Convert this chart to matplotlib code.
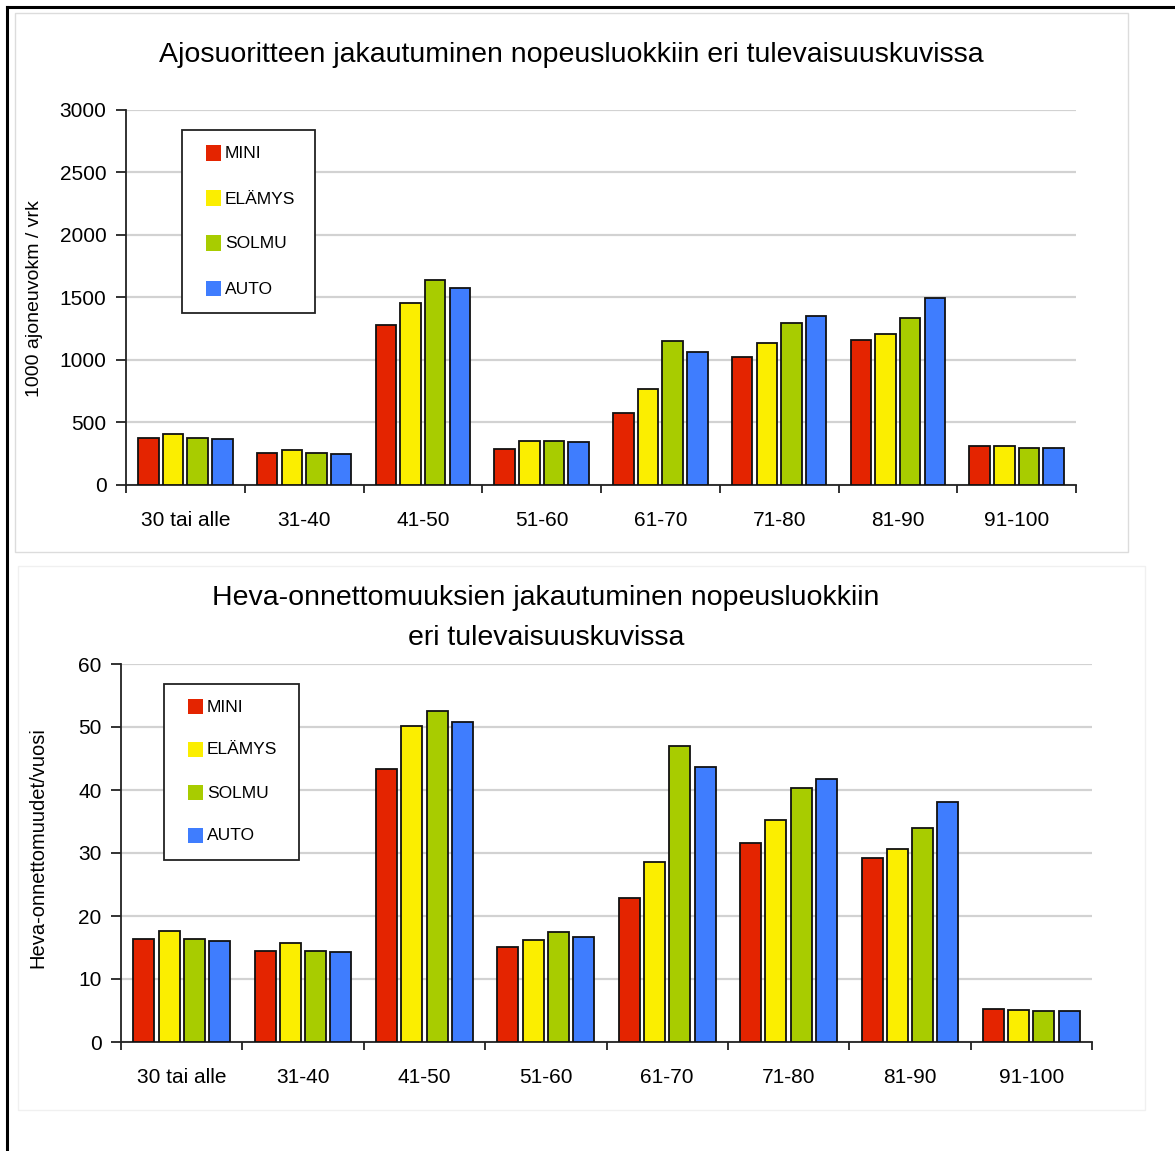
import matplotlib
matplotlib.use('Agg')
import matplotlib.pyplot as plt
from matplotlib.patches import Rectangle
from matplotlib.lines import Line2D
import numpy as np

plt.rcParams['font.family'] = ['Liberation Sans', 'DejaVu Sans']

categories = ['30 tai alle', '31-40', '41-50', '51-60', '61-70', '71-80', '81-90', '91-100']
scenarios = ['MINI', 'ELÄMYS', 'SOLMU', 'AUTO']
colors = ['#e42400', '#fbee00', '#a8cc00', '#3f7dfe']

# 1000 ajoneuvokm / vrk
ajo_mini = [373, 256, 1277, 288, 573, 1021, 1160, 315]
ajo_elamys = [405, 277, 1453, 352, 765, 1139, 1208, 309]
ajo_solmu = [376, 256, 1637, 352, 1155, 1293, 1339, 299]
ajo_auto = [365, 251, 1573, 347, 1067, 1349, 1493, 293]

# Heva-onnettomuudet / vuosi
heva_mini = [16.3, 14.5, 43.4, 15.1, 22.9, 31.6, 29.2, 5.2]
heva_elamys = [17.6, 15.7, 50.2, 16.2, 28.6, 35.2, 30.6, 5.1]
heva_solmu = [16.4, 14.5, 52.6, 17.5, 47.0, 40.3, 33.9, 5.0]
heva_auto = [16.0, 14.3, 50.8, 16.7, 43.6, 41.8, 38.1, 4.9]

W, H = 1175, 1151
fig = plt.figure(figsize=(W / 100, H / 100), dpi=100)
fig.patch.set_facecolor('white')


def px_axes(x0, y0, x1, y1):
    ax = fig.add_axes([x0 / W, 1 - y1 / H, (x1 - x0) / W, (y1 - y0) / H])
    ax.patch.set_alpha(0)
    return ax


def fig_xy(x, y):
    return x / W, 1 - y / H


def px_rect(x0, y0, x1, y1, **kw):
    fig.add_artist(Rectangle(fig_xy(x0, y1), (x1 - x0) / W, (y1 - y0) / H,
                             transform=fig.transFigure, **kw))


# panel backgrounds and outer frame
px_rect(15, 13, 1128, 552, facecolor='white', edgecolor='#dcdcdc', linewidth=1.0, zorder=-5)
px_rect(18, 566, 1145, 1110, facecolor='white', edgecolor='#f0f0f0', linewidth=1.0, zorder=-5)
fig.add_artist(Line2D([7 / W, 1], [1 - 7 / H, 1 - 7 / H], transform=fig.transFigure,
                      color='black', linewidth=2.2, zorder=-4))
fig.add_artist(Line2D([7 / W, 7 / W], [0, 1 - 7 / H], transform=fig.transFigure,
                      color='black', linewidth=2.2, zorder=-4))


def draw_legend(box, row_y):
    x0, y0, x1, y1 = box
    px_rect(x0, y0, x1, y1, facecolor='white', edgecolor='#222222', linewidth=1.3, zorder=5)
    for name, col, y in zip(scenarios, colors, row_y):
        px_rect(x0 + 24, y - 7.5, x0 + 39, y + 7.5, facecolor=col, edgecolor='none', zorder=6)
        fig.text(*fig_xy(x0 + 43, y + 1), name, ha='left', va='center', fontsize=12.5, zorder=6)


def draw_bars(ax, series, ymax, ystep, ylabel, label_xy, label_size):
    x = np.arange(len(categories))
    pitch, width = 0.208, 0.173
    for j, (vals, col) in enumerate(zip(series, colors)):
        ax.bar(x + (j - 1.5) * pitch, vals, width, color=col,
               edgecolor='#111111', linewidth=1.3, zorder=3)

    ax.set_xlim(-0.5, len(categories) - 0.5)
    ax.set_ylim(0, ymax)
    ax.set_yticks(np.arange(0, ymax + ystep / 2, ystep))
    ax.yaxis.grid(True, color='#d2d2d2', linewidth=1.6, zorder=0)
    ax.set_axisbelow(True)

    # category boundaries as ticks, names centred between them
    ax.set_xticks(np.arange(-0.5, len(categories)), minor=False)
    ax.set_xticklabels([])
    ax.set_xticks(x, minor=True)
    ax.set_xticklabels(categories, minor=True)
    ax.tick_params(axis='x', which='major', direction='out', length=6, width=1.3, color='#222222')
    ax.tick_params(axis='x', which='minor', length=0, pad=19, labelsize=15)
    ax.tick_params(axis='y', direction='out', length=7, width=1.3, color='#222222',
                   pad=7, labelsize=15)

    for s in ['top', 'right']:
        ax.spines[s].set_visible(False)
    for s in ['left', 'bottom']:
        ax.spines[s].set_color('#222222')
        ax.spines[s].set_linewidth(1.3)

    fig.text(*fig_xy(*label_xy), ylabel, rotation=90,
             ha='center', va='center', fontsize=label_size)


ax1 = px_axes(126, 110, 1076, 485)
draw_bars(ax1, [ajo_mini, ajo_elamys, ajo_solmu, ajo_auto], 3000, 500,
          '1000 ajoneuvokm / vrk', (35, 299), 14)
draw_legend((182, 130, 315, 313), [153, 198, 243, 288])

ax2 = px_axes(121, 664, 1092, 1042)
draw_bars(ax2, [heva_mini, heva_elamys, heva_solmu, heva_auto], 60, 10,
          'Heva-onnettomuudet/vuosi', (38, 848), 14.5)
draw_legend((164, 684, 299, 860), [706, 749, 792, 835])

fig.text(*fig_xy(571, 55), 'Ajosuoritteen jakautuminen nopeusluokkiin eri tulevaisuuskuvissa',
         ha='center', va='center', fontsize=20.5)
fig.text(*fig_xy(546, 618), 'Heva-onnettomuuksien jakautuminen nopeusluokkiin\neri tulevaisuuskuvissa',
         ha='center', va='center', fontsize=20.5, linespacing=1.7)

fig.savefig('out.png', dpi=100, facecolor='white')
